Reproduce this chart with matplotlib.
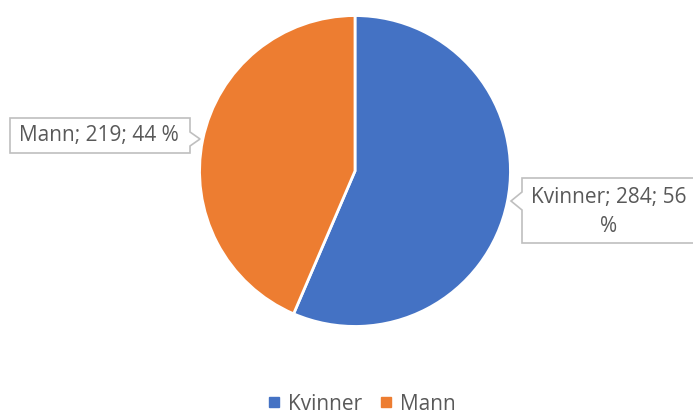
import matplotlib.pyplot as plt
from matplotlib.patches import Polygon
from matplotlib.lines import Line2D

labels = ['Kvinner', 'Mann']
counts = [284, 219]
colors = ['#4472C4', '#ED7D31']

plt.rcParams['font.family'] = ['Open Sans', 'DejaVu Sans']

W, H = 693, 416
fig = plt.figure(figsize=(W / 100, H / 100), dpi=100)

# pie centre / radius in pixels (from top-left)
cx, cy, r = 355, 171, 157
ax = fig.add_axes([(cx - r) / W, (H - cy - r) / H, 2 * r / W, 2 * r / H])
ax.pie(counts, colors=colors, startangle=90, counterclock=False,
       wedgeprops=dict(edgecolor='white', linewidth=2))
ax.set_xlim(-1.01, 1.01)
ax.set_ylim(-1.01, 1.01)
ax.set_aspect('equal')

total = sum(counts)
pct = [round(100 * c / total) for c in counts]
fs = 15


def px(x, y):
    return (x / W, 1 - y / H)


def callout(pts):
    poly = Polygon([px(*p) for p in pts], closed=True, transform=fig.transFigure,
                   facecolor='white', edgecolor='#BFBFBF', linewidth=1.2)
    fig.patches.append(poly)


# Mann box, notch on the right side
callout([(10, 118), (190, 118), (190, 132), (200, 139), (190, 146),
         (190, 153), (10, 153)])
fig.text(*px(99, 136), f'{labels[1]}; {counts[1]}; {pct[1]} %', ha='center', va='center',
         fontsize=fs, color='#595959')

# Kvinner box, notch on the left side
callout([(522, 178), (700, 178), (700, 243), (522, 243), (522, 210),
         (511, 201), (522, 192)])
fig.text(*px(609, 198), f'{labels[0]}; {counts[0]}; {pct[0]}', ha='center', va='center',
         fontsize=fs, color='#595959')
fig.text(*px(609, 227), '%', ha='center', va='center',
         fontsize=fs, color='#595959')

handles = [Line2D([], [], marker='s', linestyle='', markersize=7, color=c) for c in colors]
fig.legend(handles, labels, loc='center', bbox_to_anchor=(0.519, 1 - 404 / H), ncol=2,
           frameon=False, fontsize=fs, labelcolor='#595959', handletextpad=0.2,
           columnspacing=0.6, handlelength=1.0, borderpad=0.1)

fig.savefig('out.png', dpi=100)
